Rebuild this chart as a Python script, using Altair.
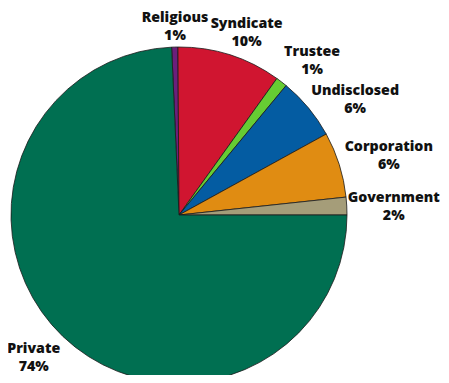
import altair as alt
import pandas as pd
import math

categories = ["Religious", "Syndicate", "Trustee", "Undisclosed", "Corporation", "Government", "Private"]
values = [0.6, 10.0, 1.1, 6.0, 6.3, 1.7, 74.3]
pct_labels = ["1%", "10%", "1%", "6%", "6%", "2%", "74%"]
colors = ["#6B1F7B", "#D01530", "#66CC33", "#045CA2", "#E08C12", "#A59D79", "#006F51"]

df = pd.DataFrame({
    "cat": categories,
    "value": values,
    "pct": pct_labels,
    "idx": list(range(len(categories))),
})
df["label"] = [[c, p] for c, p in zip(categories, pct_labels)]

start = math.radians(-2.52)
theta_scale = alt.Scale(domain=[0, 100], range=[start, start + 2 * math.pi])

CX, CY, R = 171, 207, 168

base = alt.Chart(df)

pie = base.mark_arc(stroke="#1a1a1a", strokeWidth=0.8, radius=R).encode(
    theta=alt.Theta("value:Q", stack=True, scale=theta_scale),
    color=alt.Color("cat:N", scale=alt.Scale(domain=categories, range=colors), legend=None),
    order=alt.Order("idx:Q"),
    x=alt.value(CX),
    y=alt.value(CY),
)

# per-label fine offsets and line heights (layout only)
offsets = {
    "Religious": (1, 3, 18),
    "Syndicate": (7, 0, 18),
    "Trustee": (11, -5, 18),
    "Undisclosed": (22, 3, 18),
    "Corporation": (19, -8, 18),
    "Government": (15, -6, 18),
    "Private": (-7, -10, 18),
}

layers = [pie]
for c in categories:
    dx, dy, lh = offsets[c]
    t = (
        base.transform_window(cum="sum(value)", sort=[alt.SortField("idx")], frame=[None, 0])
        .transform_calculate(mid="datum.cum - datum.value / 2")
        .transform_filter(alt.datum.cat == c)
        .mark_text(
            radius=200, dx=dx, dy=dy, font="Open Sans", fontWeight=800, fontSize=14.2,
            color="#111111", align="center", baseline="middle", lineHeight=lh,
        )
        .encode(
            theta=alt.Theta("mid:Q", scale=theta_scale),
            text="label",
            x=alt.value(CX),
            y=alt.value(CY),
        )
    )
    layers.append(t)

chart = alt.layer(*layers).properties(
    width=433, height=367, padding=0, autosize=alt.AutoSizeParams(type="none")
).configure_view(stroke=None)

chart.save("out.html", embed_options={"renderer": "svg", "actions": False})
